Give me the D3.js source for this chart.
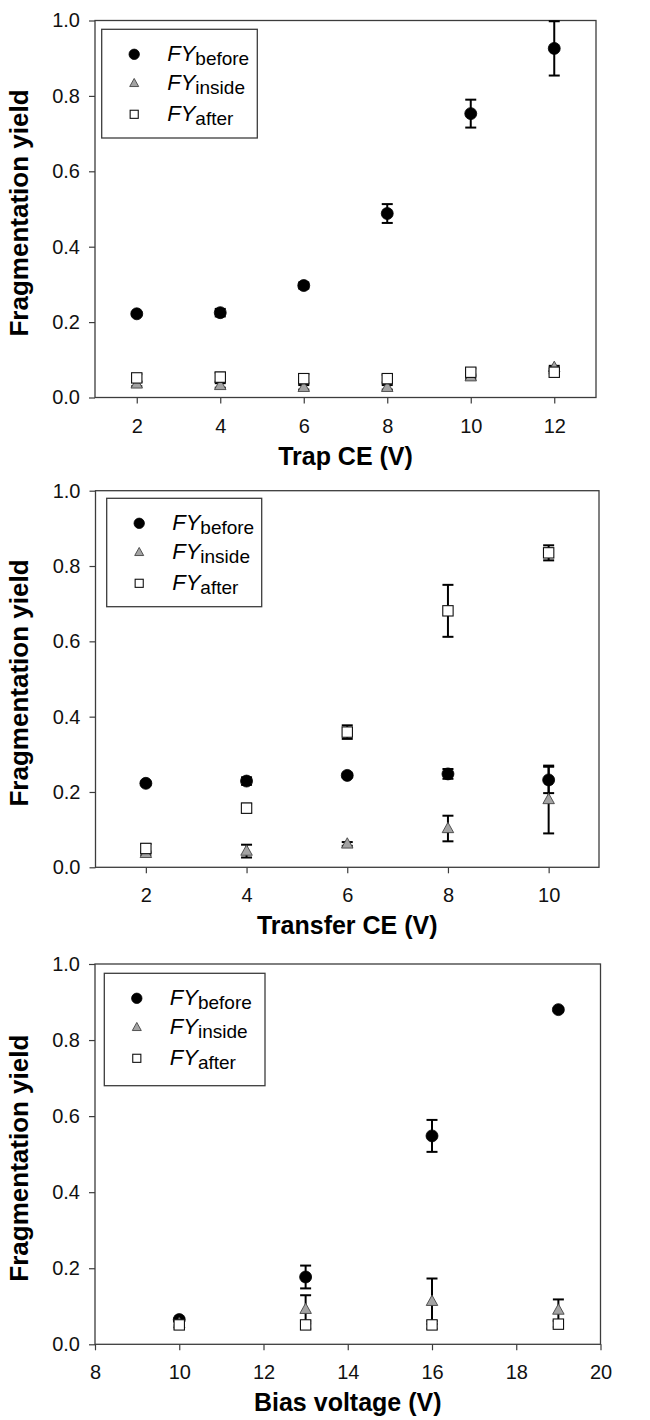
<!DOCTYPE html>
<html><head><meta charset="utf-8">
<script src="https://cdn.jsdelivr.net/npm/d3@7"></script>
<style>
html,body{margin:0;padding:0;background:#fff;}
svg{display:block;}
text{font-family:"Liberation Sans",Arial,sans-serif;}
</style></head>
<body>
<svg id="chart" width="650" height="1420"></svg>
<script>
// ---------- data ----------
const yTicks = [0.0, 0.2, 0.4, 0.6, 0.8, 1.0];
const seriesNames = ["before", "inside", "after"];

// Panel 1: Trap CE
const trapCE = [2, 4, 6, 8, 10, 12];
const trapTicks = [2, 4, 6, 8, 10, 12];
const trapBefore = [0.222, 0.225, 0.297, 0.488, 0.753, 0.926];
const trapBeforeErr = [0.004, 0.010, 0.008, 0.025, 0.037, 0.072];
const trapInside = [0.036, 0.032, 0.027, 0.027, 0.055, 0.080];
const trapInsideErr = [0.006, 0.006, 0.006, 0.006, 0.006, 0.004];
const trapAfter = [0.052, 0.054, 0.050, 0.050, 0.067, 0.067];
const trapAfterErr = [0.010, 0.012, 0.012, 0.010, 0.010, 0.003];

// Panel 2: Transfer CE
const transferCE = [2, 4, 6, 8, 10];
const transferTicks = [2, 4, 6, 8, 10];
const transferBefore = [0.223, 0.229, 0.244, 0.248, 0.232];
const transferBeforeErr = [0.004, 0.010, 0.005, 0.013, 0.035];
const transferInside = [0.037, 0.043, 0.062, 0.103, 0.180];
const transferInsideErr = [0.005, 0.017, 0.005, 0.034, 0.090];
const transferAfter = [0.050, 0.157, 0.359, 0.681, 0.835];
const transferAfterErr = [0.012, 0.012, 0.018, 0.069, 0.020];

// Panel 3: Bias voltage
const biasV = [10, 13, 16, 19];
const biasTicks = [8, 10, 12, 14, 16, 18, 20];
const biasBefore = [0.065, 0.177, 0.548, 0.880];
const biasBeforeErr = [0.004, 0.030, 0.042, 0.004];
const biasInside = [0.055, 0.092, 0.113, 0.090];
const biasInsideErr = [0.005, 0.037, 0.060, 0.028];
const biasAfter = [0.051, 0.051, 0.051, 0.053];
const biasAfterErr = [0.010, 0.010, 0.010, 0.008];

// ---------- layout ----------
const panels = [
  {x: trapCE, ticks: trapTicks, xDomain: [1, 13], title: "Trap CE (V)",
   series: [[trapBefore, trapBeforeErr], [trapInside, trapInsideErr], [trapAfter, trapAfterErr]],
   L: 95, R: 596, T: 20.5, B: 397.5, leg: [101.7, 29.3, 155.6, 108.7]},
  {x: transferCE, ticks: transferTicks, xDomain: [1, 11], title: "Transfer CE (V)",
   series: [[transferBefore, transferBeforeErr], [transferInside, transferInsideErr], [transferAfter, transferAfterErr]],
   L: 95.5, R: 599, T: 490.7, B: 867.3, leg: [106.7, 498.3, 155, 108.4]},
  {x: biasV, ticks: biasTicks, xDomain: [8, 20], title: "Bias voltage (V)",
   series: [[biasBefore, biasBeforeErr], [biasInside, biasInsideErr], [biasAfter, biasAfterErr]],
   L: 95, R: 600.5, T: 964, B: 1344.3, leg: [104.3, 973.3, 160.7, 112.4]}
];

const svg = d3.select("#chart");
const FRAME = "#3c3c3c";
const TRI_FILL = "#a3a3a3";

function drawMarker(g, kind, cx, cy, s) {
  if (kind === 0) {
    g.append("circle").attr("cx", cx).attr("cy", cy).attr("r", s * 0.52)
      .attr("fill", "#000").attr("stroke", "#000").attr("stroke-width", 0.8);
  } else if (kind === 1) {
    const h = s * 0.9, w = s * 1.0;
    g.append("path")
      .attr("d", `M${cx},${cy - h * 0.6} L${cx + w / 2},${cy + h * 0.4} L${cx - w / 2},${cy + h * 0.4} Z`)
      .attr("fill", TRI_FILL).attr("stroke", "#444").attr("stroke-width", 0.9);
  } else {
    g.append("rect").attr("x", cx - s * 0.45).attr("y", cy - s * 0.45)
      .attr("width", s * 0.9).attr("height", s * 0.9)
      .attr("fill", "#fff").attr("stroke", "#111").attr("stroke-width", 1.1);
  }
}

panels.forEach(p => {
  const g = svg.append("g");
  const x = d3.scaleLinear().domain(p.xDomain).range([p.L, p.R]);
  const y = d3.scaleLinear().domain([0, 1]).range([p.B, p.T]);

  // axes
  const ax = g.append("g").attr("transform", `translate(0,${p.B})`)
    .call(d3.axisBottom(x).tickValues(p.ticks).tickFormat(d3.format("d")).tickSize(6).tickSizeOuter(0).tickPadding(15));
  const ay = g.append("g").attr("transform", `translate(${p.L},0)`)
    .call(d3.axisLeft(y).tickValues(yTicks).tickFormat(d3.format(".1f")).tickSize(6).tickSizeOuter(0).tickPadding(9));
  [ax, ay].forEach(a => {
    a.select(".domain").remove();
    a.selectAll(".tick line").attr("stroke", FRAME).attr("stroke-width", 1.2);
    a.selectAll(".tick text").attr("fill", "#111").style("font-size", "20px")
      .style("font-family", '"Liberation Sans", Arial, sans-serif');
  });

  // frame
  g.append("rect").attr("x", p.L).attr("y", p.T).attr("width", p.R - p.L).attr("height", p.B - p.T)
    .attr("fill", "none").attr("stroke", FRAME).attr("stroke-width", 1.3);

  // axis titles
  g.append("text").attr("x", (p.L + p.R) / 2).attr("y", p.B + 67)
    .attr("text-anchor", "middle").style("font-size", "25px").style("font-weight", "bold")
    .attr("fill", "#000").text(p.title);
  g.append("text").attr("transform", `translate(28,${(p.T + p.B) / 2 + 4}) rotate(-90)`)
    .attr("text-anchor", "middle").style("font-size", "26px").style("font-weight", "bold")
    .attr("fill", "#000").text("Fragmentation yield");

  // error bars then markers
  const capW = 5.5;
  p.series.forEach(([vals, errs], k) => {
    vals.forEach((v, i) => {
      const cx = x(p.x[i]);
      const y1 = y(v + errs[i]), y2 = y(v - errs[i]);
      g.append("line").attr("x1", cx).attr("x2", cx).attr("y1", y1).attr("y2", y2)
        .attr("stroke", "#000").attr("stroke-width", 2);
      [y1, y2].forEach(yy => g.append("line").attr("x1", cx - capW).attr("x2", cx + capW)
        .attr("y1", yy).attr("y2", yy).attr("stroke", "#000").attr("stroke-width", 2));
    });
  });
  p.series.forEach(([vals], k) => {
    vals.forEach((v, i) => drawMarker(g, k, x(p.x[i]), y(v), 11.5));
  });

  // legend
  const [lx, ly, lw, lh] = p.leg;
  const lg = g.append("g");
  lg.append("rect").attr("x", lx).attr("y", ly).attr("width", lw).attr("height", lh)
    .attr("fill", "#fff").attr("stroke", FRAME).attr("stroke-width", 1.3);
  const rowOff = [25, 54, 85];
  seriesNames.forEach((name, k) => {
    const cy = ly + rowOff[k];
    drawMarker(lg, k, lx + 32.5, cy, k === 0 ? 10 : 9);
    const t = lg.append("text").attr("x", lx + 65.5).attr("y", cy + 7).attr("fill", "#000");
    t.append("tspan").style("font-style", "italic").style("font-size", "22px").text("FY");
    t.append("tspan").style("font-size", "19px").attr("dy", 4).text(name);
  });
});
</script>
</body></html>
